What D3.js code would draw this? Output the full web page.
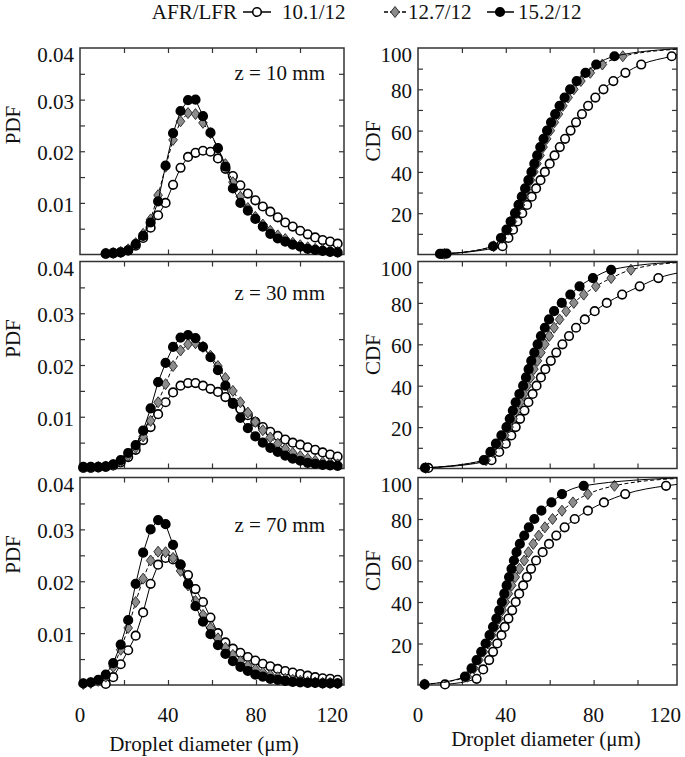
<!DOCTYPE html>
<html><head><meta charset="utf-8">
<script src="https://cdn.jsdelivr.net/npm/d3@7"></script>
<style>
html,body{margin:0;padding:0;background:#fff;}
svg text{font-family:"Liberation Serif","Times New Roman",serif;fill:#111;}
</style></head>
<body><svg id="chart" width="685" height="757"></svg>
<script>
// ---------------- DATA ----------------
const seriesLabels = ["10.1/12", "12.7/12", "15.2/12"];
const legendTitle = "AFR/LFR";
const panelLabels = ["z = 10 mm", "z = 30 mm", "z = 70 mm"];
const xLabel = "Droplet diameter (\u03bcm)";
const pdfTickLabels = [0.01, 0.02, 0.03, 0.04];
const cdfTickLabels = [20, 40, 60, 80, 100];
const xTickLabels = [0, 40, 80, 120];

// droplet diameter bins (um) for PDF
const diameter = [1.5, 4.9, 8.3, 11.7, 15.1, 18.5, 21.9, 25.3, 28.7, 32.1, 35.5, 38.9, 42.3, 45.7, 49.1, 52.5, 55.9, 59.3, 62.7, 66.1, 69.5, 72.9, 76.3, 79.7, 83.1, 86.5, 89.9, 93.3, 96.7, 100.1, 103.5, 106.9, 110.3, 113.7, 117.1];

// z = 10 mm PDF
const pdf10_101 = [null, null, null, 0.0001, 0.0002, 0.0004, 0.0008, 0.0017, 0.0032, 0.0052, 0.0076, 0.0100, 0.0135, 0.0168, 0.0189, 0.0197, 0.0201, 0.0199, 0.0186, 0.0166, 0.0152, 0.0134, 0.0118, 0.0105, 0.0093, 0.0083, 0.0072, 0.0062, 0.0054, 0.0046, 0.0039, 0.0033, 0.0028, 0.0025, 0.0021];
const pdf10_127 = [null, null, null, 0.0002, 0.0003, 0.0005, 0.0010, 0.0022, 0.0040, 0.0068, 0.0115, 0.0170, 0.0222, 0.0258, 0.0274, 0.0272, 0.0255, 0.0235, 0.0205, 0.0175, 0.0140, 0.0112, 0.0090, 0.0073, 0.0058, 0.0046, 0.0037, 0.0030, 0.0023, 0.0018, 0.0014, 0.0011, 0.0009, 0.0007, 0.0005];
const pdf10_152 = [null, null, null, 0.0002, 0.0003, 0.0004, 0.0008, 0.0020, 0.0036, 0.0062, 0.0103, 0.0172, 0.0235, 0.0278, 0.0299, 0.0300, 0.0268, 0.0236, 0.0206, 0.0170, 0.0128, 0.0100, 0.0085, 0.0069, 0.0054, 0.0040, 0.0031, 0.0025, 0.0019, 0.0015, 0.0011, 0.0009, 0.0007, 0.0005, 0.0004];

// z = 30 mm PDF
const pdf30_101 = [0.0001, 0.0001, 0.0002, 0.0003, 0.0006, 0.0012, 0.0022, 0.0036, 0.0055, 0.0080, 0.0105, 0.0128, 0.0147, 0.0160, 0.0165, 0.0165, 0.0160, 0.0154, 0.0148, 0.0138, 0.0127, 0.0115, 0.0103, 0.0090, 0.0080, 0.0071, 0.0063, 0.0056, 0.0050, 0.0046, 0.0041, 0.0036, 0.0031, 0.0027, 0.0023];
const pdf30_127 = [0.0002, 0.0002, 0.0003, 0.0004, 0.0007, 0.0014, 0.0025, 0.0040, 0.0062, 0.0092, 0.0128, 0.0163, 0.0198, 0.0228, 0.0240, 0.0242, 0.0235, 0.0218, 0.0198, 0.0175, 0.0150, 0.0128, 0.0108, 0.0090, 0.0074, 0.0060, 0.0048, 0.0038, 0.0030, 0.0024, 0.0019, 0.0015, 0.0012, 0.0010, 0.0008];
const pdf30_152 = [0.0003, 0.0003, 0.0003, 0.0004, 0.0008, 0.0016, 0.0030, 0.0045, 0.0073, 0.0116, 0.0167, 0.0204, 0.0235, 0.0253, 0.0258, 0.0252, 0.0235, 0.0215, 0.0190, 0.0160, 0.0125, 0.0098, 0.0078, 0.0062, 0.0050, 0.0040, 0.0032, 0.0025, 0.0019, 0.0015, 0.0011, 0.0009, 0.0007, 0.0006, 0.0005];

// z = 70 mm PDF
const pdf70_101 = [null, null, null, 0.0002, 0.0015, 0.0040, 0.0067, 0.0095, 0.0140, 0.0195, 0.0232, 0.0245, 0.0242, 0.0232, 0.0212, 0.0185, 0.0160, 0.0130, 0.0100, 0.0082, 0.0070, 0.0062, 0.0054, 0.0047, 0.0041, 0.0036, 0.0031, 0.0027, 0.0024, 0.0021, 0.0018, 0.0015, 0.0013, 0.0012, 0.0010];
const pdf70_127 = [0.0002, 0.0004, 0.0008, 0.0016, 0.0035, 0.0068, 0.0110, 0.0160, 0.0205, 0.0240, 0.0257, 0.0256, 0.0245, 0.0220, 0.0192, 0.0162, 0.0135, 0.0110, 0.0090, 0.0072, 0.0058, 0.0046, 0.0037, 0.0030, 0.0024, 0.0019, 0.0015, 0.0012, 0.0010, 0.0008, 0.0006, 0.0005, 0.0004, 0.0004, 0.0003];
const pdf70_152 = [0.0003, 0.0005, 0.0010, 0.0020, 0.0042, 0.0078, 0.0125, 0.0195, 0.0255, 0.0300, 0.0318, 0.0310, 0.0270, 0.0232, 0.0195, 0.0152, 0.0122, 0.0098, 0.0077, 0.0060, 0.0046, 0.0035, 0.0027, 0.0020, 0.0016, 0.0012, 0.0010, 0.0008, 0.0006, 0.0005, 0.0004, 0.0004, 0.0003, 0.0003, 0.0003];

// CDF (%) vs diameter (um)
const cdf10_101_x = [11, 38.5, 41.2, 43.3, 45.3, 47.5, 49.7, 51.8, 53.8, 55.8, 57.8, 60.0, 62.2, 64.6, 67.0, 69.5, 72.0, 74.7, 77.5, 80.8, 84.5, 89.0, 94.5, 101.7, 115.6, 121];
const cdf10_101_y = [0.3, 4, 8, 12, 16, 20, 24, 28, 32, 36, 40, 44, 48, 52, 56, 60, 64, 68, 72, 76, 80, 84, 88, 92, 96, 97.5];
const cdf10_127_x = [12, 34.5, 38.3, 41.0, 43.0, 45.0, 46.7, 48.3, 49.8, 51.3, 52.8, 54.2, 55.6, 57.0, 58.6, 60.3, 62.1, 64.0, 66.0, 68.4, 71.0, 74.2, 78.5, 84.0, 93.3, 121];
const cdf10_127_y = [0.3, 4, 8, 12, 16, 20, 24, 28, 32, 36, 40, 44, 48, 52, 56, 60, 64, 68, 72, 76, 80, 84, 88, 92, 96, 99.6];
const cdf10_152_x = [10, 13, 34.2, 37.8, 40.3, 42.2, 44.2, 45.8, 47.3, 48.8, 50.3, 51.7, 53.0, 54.3, 55.7, 57.2, 58.8, 60.6, 62.5, 64.5, 66.8, 69.3, 72.3, 76.3, 81.2, 89.5, 121];
const cdf10_152_y = [0.3, 0.4, 4, 8, 12, 16, 20, 24, 28, 32, 36, 40, 44, 48, 52, 56, 60, 64, 68, 72, 76, 80, 84, 88, 92, 96, 99.8];

const cdf30_101_x = [4.7, 33.5, 37.0, 40.0, 42.5, 44.5, 46.5, 48.5, 50.3, 52.2, 54.0, 56.0, 58.0, 60.5, 63.0, 65.8, 68.8, 72.0, 76.0, 80.5, 86.0, 93.0, 101.0, 109.5, 121];
const cdf30_101_y = [0.3, 4, 8, 12, 16, 20, 24, 28, 32, 36, 40, 44, 48, 52, 56, 60, 64, 68, 72, 76, 80, 84, 88, 92, 95];
const cdf30_127_x = [3.5, 31.0, 34.0, 37.0, 39.5, 41.5, 43.3, 45.0, 46.6, 48.2, 49.8, 51.3, 52.8, 54.4, 56.0, 57.8, 59.8, 62.0, 64.5, 67.5, 71.0, 75.5, 81.0, 88.0, 97.0, 121];
const cdf30_127_y = [0.3, 4, 8, 12, 16, 20, 24, 28, 32, 36, 40, 44, 48, 52, 56, 60, 64, 68, 72, 76, 80, 84, 88, 92, 96, 99.7];
const cdf30_152_x = [3.2, 30.0, 33.0, 35.5, 38.0, 40.3, 41.8, 43.2, 44.5, 46.2, 47.9, 49.2, 50.4, 51.6, 53.0, 54.5, 56.0, 57.8, 59.7, 62.0, 65.5, 69.4, 73.6, 79.7, 88.0, 121];
const cdf30_152_y = [0.3, 4, 8, 12, 16, 20, 24, 28, 32, 36, 40, 44, 48, 52, 56, 60, 64, 68, 72, 76, 80, 84, 88, 92, 96, 99.9];

const cdf70_101_x = [12.3, 26.7, 29.7, 32.4, 34.2, 36.1, 38.0, 39.5, 41.2, 42.9, 44.5, 46.1, 47.9, 49.6, 51.5, 53.8, 56.8, 59.7, 63.0, 66.8, 71.4, 77.4, 84.7, 94.4, 113.0, 121];
const cdf70_101_y = [0.3, 3, 7.5, 12, 16, 20, 24, 28, 32, 36, 40, 44, 48, 52, 56, 60, 64, 68, 72, 76, 80, 84, 88, 92, 96, 97];
const cdf70_127_x = [3.0, 22.5, 25.5, 27.8, 29.8, 31.8, 33.6, 35.3, 36.9, 38.4, 39.8, 41.2, 42.7, 44.3, 46.2, 48.4, 50.3, 52.5, 55.0, 57.8, 61.3, 65.6, 70.6, 77.4, 89.5, 121];
const cdf70_127_y = [0.3, 4, 8, 12, 16, 20, 24, 28, 32, 36, 40, 44, 48, 52, 56, 60, 64, 68, 72, 76, 80, 84, 88, 92, 96, 99.7];
const cdf70_152_x = [3.0, 21.4, 24.4, 26.7, 28.8, 30.8, 32.6, 34.2, 35.7, 37.0, 38.2, 39.3, 40.4, 41.5, 42.6, 43.7, 44.9, 46.4, 48.4, 50.5, 53.0, 56.2, 60.8, 65.6, 75.5, 121];
const cdf70_152_y = [0.3, 4, 8, 12, 16, 20, 24, 28, 32, 36, 40, 44, 48, 52, 56, 60, 64, 68, 72, 76, 80, 84, 88, 92, 96, 99.9];

// ---------------- DRAWING ----------------
const svg = d3.select("#chart");
const FONT = 21;
const rows = [{t: 48, b: 254.5}, {t: 261.5, b: 468.5}, {t: 477.5, b: 685}];
const colL = {l: 80, r: 344, dom: [0, 120]};
const colR = {l: 418, r: 677, dom: [0, 118]};
const zLabelY = [73, 293, 525];

const pdfSets = [[pdf10_101, pdf10_127, pdf10_152], [pdf30_101, pdf30_127, pdf30_152], [pdf70_101, pdf70_127, pdf70_152]];
const cdfSets = [
  [[cdf10_101_x, cdf10_101_y], [cdf10_127_x, cdf10_127_y], [cdf10_152_x, cdf10_152_y]],
  [[cdf30_101_x, cdf30_101_y], [cdf30_127_x, cdf30_127_y], [cdf30_152_x, cdf30_152_y]],
  [[cdf70_101_x, cdf70_101_y], [cdf70_127_x, cdf70_127_y], [cdf70_152_x, cdf70_152_y]]
];

const styles = [
  {type: "circle", fill: "#fff", dash: null},
  {type: "diamond", fill: "#8c8c8c", dash: "4,2.5"},
  {type: "circle", fill: "#000", dash: null}
];
const drawOrder = [0, 1, 2];

function marker(g, x, y, st) {
  if (st.type === "circle") {
    g.append("circle").attr("cx", x).attr("cy", y).attr("r", 4.3)
      .attr("fill", st.fill).attr("stroke", "#000").attr("stroke-width", 1.6);
  } else {
    g.append("path").attr("d", `M${x},${y-5.5}L${x+4.3},${y}L${x},${y+5.5}L${x-4.3},${y}Z`)
      .attr("fill", st.fill).attr("stroke", "#333").attr("stroke-width", 1);
  }
}

function panel(ri, col, yDom, yTickStep, yLabels, yFmt, kind) {
  const r = rows[ri];
  const x = d3.scaleLinear().domain(col.dom).range([col.l, col.r]);
  const y = d3.scaleLinear().domain(yDom).range([r.b, r.t]);
  const g = svg.append("g");
  const clipId = `clip-${kind}-${ri}`;
  svg.append("clipPath").attr("id", clipId).append("rect")
    .attr("x", col.l).attr("y", r.t).attr("width", col.r - col.l).attr("height", r.b - r.t);

  const xt = d3.range(20, col.dom[1], 20);
  const yt = d3.range(yTickStep, yDom[1] - yTickStep * 0.01, yTickStep);
  const tick = (a) => a.tickSize(-5).tickFormat("");
  const axes = [
    g.append("g").attr("transform", `translate(0,${r.b})`).call(tick(d3.axisBottom(x).tickValues(xt))),
    g.append("g").attr("transform", `translate(0,${r.t})`).call(tick(d3.axisTop(x).tickValues(xt))),
    g.append("g").attr("transform", `translate(${col.l},0)`).call(tick(d3.axisLeft(y).tickValues(yt))),
    g.append("g").attr("transform", `translate(${col.r},0)`).call(tick(d3.axisRight(y).tickValues(yt)))
  ];
  axes.forEach(a => { a.select(".domain").remove(); a.selectAll("line").attr("stroke", "#333").attr("stroke-width", 1.2); });
  g.append("rect").attr("x", col.l).attr("y", r.t).attr("width", col.r - col.l).attr("height", r.b - r.t)
    .attr("fill", "none").attr("stroke", "#333").attr("stroke-width", 1.5);

  // y tick labels
  yLabels.forEach(v => {
    const top = Math.abs(v - yDom[1]) < 1e-9;
    g.append("text").attr("x", col.l - 6).attr("y", y(v) + (top ? 7 : 2))
      .attr("text-anchor", "end").attr("dominant-baseline", "central")
      .attr("font-size", FONT).text(yFmt(v));
  });
  return {x, y, g, clipId};
}

rows.forEach((r, ri) => {
  // PDF panel
  const P = panel(ri, colL, [0, 0.04], 0.005, pdfTickLabels, d => d3.format(".2f")(d), "pdf");
  const lineP = d3.line().defined(d => d[1] != null).x(d => P.x(d[0])).y(d => P.y(d[1]));
  drawOrder.forEach(si => {
    const st = styles[si];
    const pts = diameter.map((d, i) => [d, pdfSets[ri][si][i]]);
    P.g.append("path").datum(pts).attr("d", lineP).attr("fill", "none")
      .attr("stroke", "#000").attr("stroke-width", 1).attr("stroke-dasharray", st.dash);
    const mg = P.g.append("g");
    pts.filter(d => d[1] != null).forEach(d => marker(mg, P.x(d[0]), P.y(d[1]), st));
  });
  P.g.append("text").attr("x", 325).attr("y", zLabelY[ri]).attr("text-anchor", "end")
    .attr("dominant-baseline", "central").attr("font-size", FONT).text(panelLabels[ri]);
  P.g.append("text").attr("transform", `translate(13,${r.t + 77}) rotate(-90)`)
    .attr("text-anchor", "middle").attr("dominant-baseline", "central").attr("font-size", FONT).text("PDF");

  // CDF panel
  const C = panel(ri, colR, [0, 100], 10, cdfTickLabels, d => String(d), "cdf");
  const lineC = d3.line().x(d => C.x(d[0])).y(d => C.y(d[1])).curve(d3.curveMonotoneX);
  drawOrder.forEach(si => {
    const st = styles[si];
    const xs = cdfSets[ri][si][0], ys = cdfSets[ri][si][1];
    const pts = xs.map((d, i) => [d, ys[i]]);
    C.g.append("path").datum(pts).attr("d", lineC).attr("fill", "none")
      .attr("clip-path", `url(#${C.clipId})`)
      .attr("stroke", "#000").attr("stroke-width", 1).attr("stroke-dasharray", st.dash);
    const mg = C.g.append("g");
    pts.filter(d => d[0] <= colR.dom[1]).forEach(d => marker(mg, C.x(d[0]), C.y(d[1]), st));
  });
  C.g.append("text").attr("transform", `translate(373,${r.t + 93}) rotate(-90)`)
    .attr("text-anchor", "middle").attr("dominant-baseline", "central").attr("font-size", FONT).text("CDF");

  if (ri === 2) {
    [[P, colL], [C, colR]].forEach(([S, col]) => {
      xTickLabels.forEach(v => {
        const last = v === xTickLabels[xTickLabels.length - 1];
        S.g.append("text").attr("x", last ? col.r + 4 : S.x(v)).attr("y", 715)
          .attr("text-anchor", last ? "end" : "middle").attr("dominant-baseline", "central")
          .attr("font-size", FONT).text(v);
      });
    });
    svg.append("text").attr("x", 204).attr("y", 744).attr("text-anchor", "middle")
      .attr("dominant-baseline", "central").attr("font-size", FONT).text(xLabel);
    svg.append("text").attr("x", 546).attr("y", 739).attr("text-anchor", "middle")
      .attr("dominant-baseline", "central").attr("font-size", FONT).text(xLabel);
  }
});

// legend
const lg = svg.append("g");
const LY = 12;
lg.append("text").attr("x", 237).attr("y", LY).attr("text-anchor", "end")
  .attr("dominant-baseline", "central").attr("font-size", FONT).text(legendTitle);
const legendPos = [{l0: 243, l1: 271, m: 257, t: 282}, {l0: 384, l1: 408, m: 395, t: 408}, {l0: 487, l1: 514, m: 500, t: 518}];
seriesLabels.forEach((lab, si) => {
  const p = legendPos[si], st = styles[si];
  lg.append("line").attr("x1", p.l0).attr("x2", p.l1).attr("y1", LY).attr("y2", LY)
    .attr("stroke", "#000").attr("stroke-width", 1.5).attr("stroke-dasharray", st.dash ? "4,2" : null);
  marker(lg, p.m, LY, st);
  lg.append("text").attr("x", p.t).attr("y", LY).attr("dominant-baseline", "central")
    .attr("font-size", FONT).text(lab);
});
</script></body></html>
